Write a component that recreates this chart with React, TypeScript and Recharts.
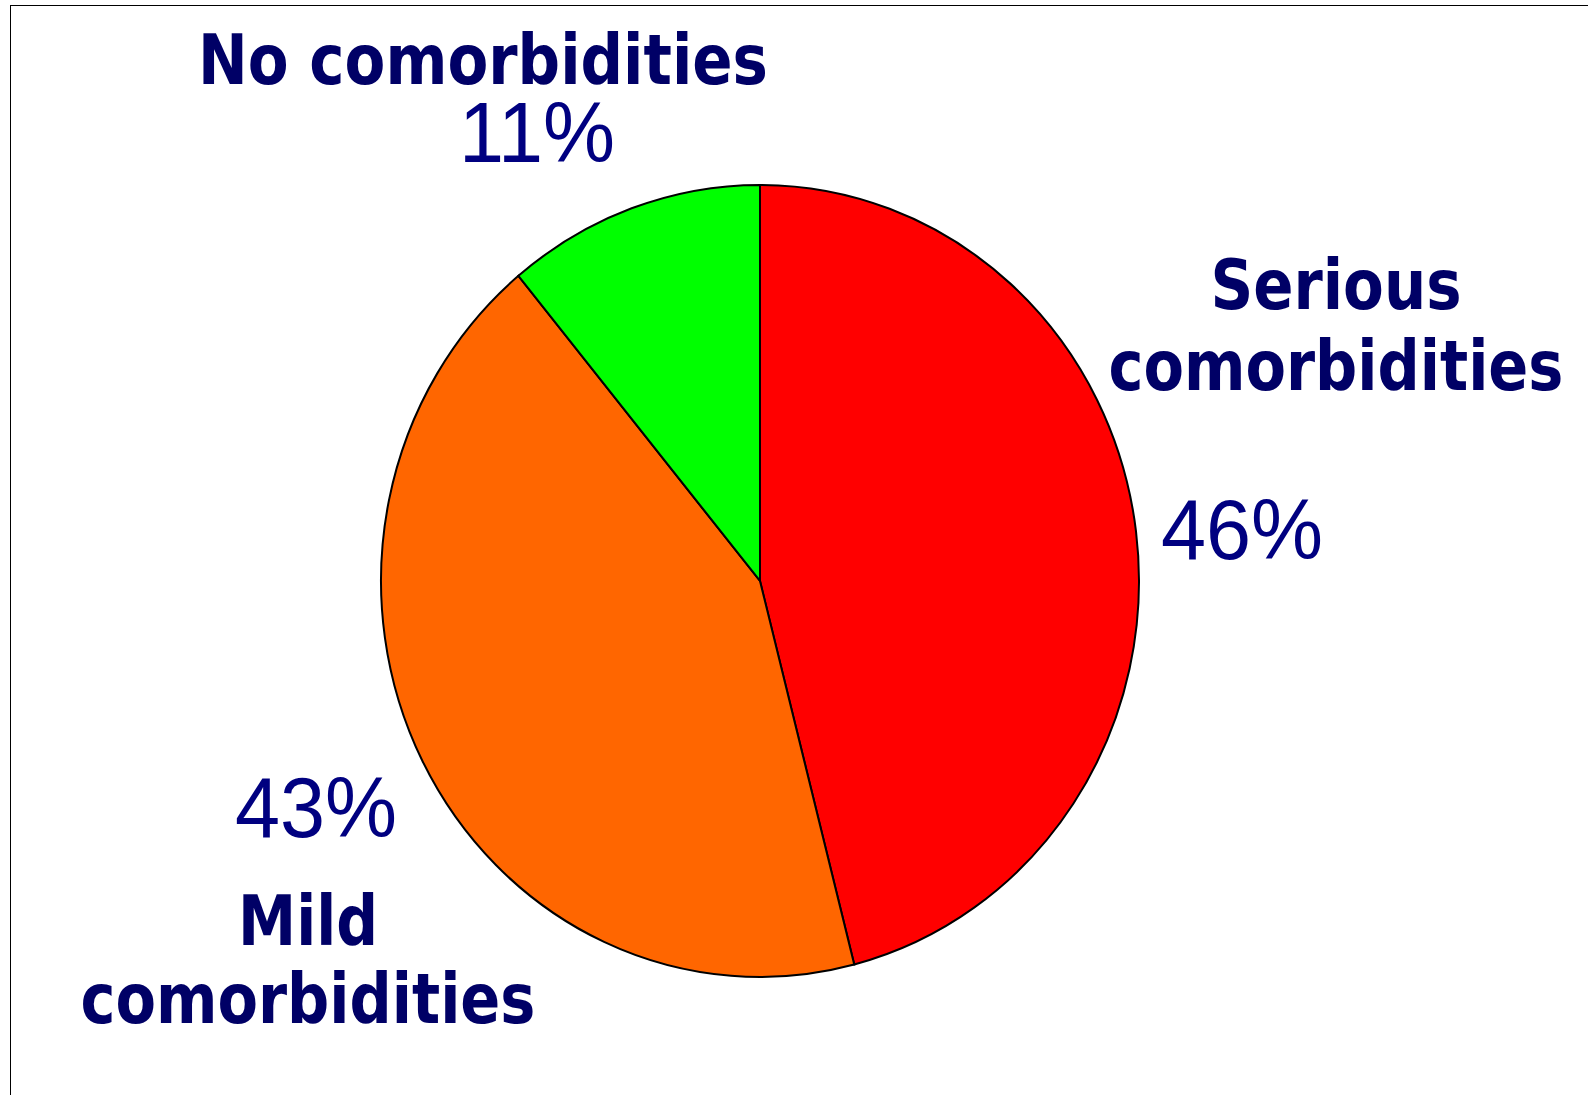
import { PieChart, Pie, Cell } from 'recharts';

const categories = ['Serious comorbidities', 'Mild comorbidities', 'No comorbidities'];
const shares = [46, 43, 11];
const sliceColors = ['#FF0000', '#FF6600', '#00FF00'];

// label text lines per slice (bold) and where they sit relative to the pie centre
const titleLines = [['Serious', 'comorbidities'], ['Mild', 'comorbidities'], ['No comorbidities']];
const titleOffsets = [
  [{ dx: 576, dy: -260, len: 251 }, { dx: 576, dy: -183, len: 455 }],
  [{ dx: -452, dy: 348, len: 140 }, { dx: -452, dy: 423, len: 455 }],
  [{ dx: -277, dy: -476, len: 570 }],
];
const pctOffsets = [
  { dx: 482, dy: -21 },
  { dx: -444, dy: 245 },
  { dx: -223, dy: -401 },
];

const data = categories.map((name, i) => ({ name, value: shares[i] }));

const W = 1588;
const H = 1095;
const STRETCH = 396 / 379; // the original pie is slightly taller than wide

const NAVY = '#000066';
const PCT = '#000080';

function renderLabel(props: any) {
  const { cx, cy, index, value } = props;
  const lines = titleLines[index];
  const offs = titleOffsets[index];
  const p = pctOffsets[index];
  return (
    <g key={`lbl-${index}`}>
      {lines.map((t, j) => (
        <text
          key={j}
          x={cx + offs[j].dx}
          y={cy + offs[j].dy}
          textAnchor="middle"
          fill={NAVY}
          fontFamily="'DejaVu Sans', Verdana, sans-serif"
          fontWeight="bold"
          fontSize={66}
          textLength={offs[j].len}
          lengthAdjust="spacingAndGlyphs"
        >
          {t}
        </text>
      ))}
      <text
        x={cx + p.dx}
        y={cy + p.dy}
        textAnchor="middle"
        fill={PCT}
        fontFamily="'Liberation Sans', Arial, sans-serif"
        fontSize={81}
      >
        {`${value}%`}
      </text>
    </g>
  );
}

export default function App() {
  return (
    <div style={{ position: 'absolute', left: 0, top: 0, width: W, height: H, overflow: 'hidden', background: '#fff' }}>
      <div
        style={{
          position: 'absolute',
          left: 10,
          top: 5,
          right: 0,
          bottom: 0,
          borderLeft: '1px solid #000',
          borderTop: '1px solid #000',
        }}
      />
      <div style={{ position: 'absolute', left: 0, top: 0, transform: `scaleY(${STRETCH})`, transformOrigin: '0 0' }}>
        <PieChart width={W} height={Math.round(H / STRETCH)} margin={{ top: 0, right: 0, bottom: 0, left: 0 }}>
          <Pie
            data={data}
            dataKey="value"
            nameKey="name"
            cx={760}
            cy={556}
            outerRadius={379}
            startAngle={90}
            endAngle={-270}
            stroke="#000"
            strokeWidth={2}
            label={renderLabel}
            labelLine={false}
            isAnimationActive={false}
          >
            {data.map((d, i) => (
              <Cell key={d.name} fill={sliceColors[i]} />
            ))}
          </Pie>
        </PieChart>
      </div>
    </div>
  );
}
